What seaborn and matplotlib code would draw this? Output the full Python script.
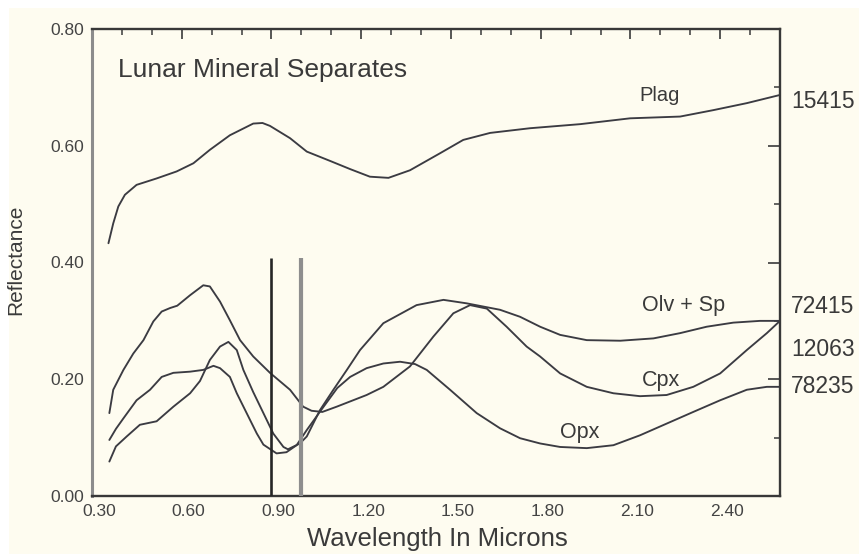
import numpy as np
import pandas as pd
import seaborn as sns
import matplotlib
matplotlib.use("Agg")
import matplotlib.pyplot as plt
from matplotlib.patches import Rectangle
from matplotlib.transforms import ScaledTranslation

# Reflectance spectra of lunar mineral separates (wavelength in microns)
plag_x = [0.355, 0.371, 0.388, 0.410, 0.449, 0.516, 0.583, 0.639, 0.694, 0.761,
          0.839, 0.870, 0.895, 0.962, 1.018, 1.096, 1.163, 1.229, 1.291, 1.363,
          1.463, 1.541, 1.631, 1.764, 1.932, 2.099, 2.266, 2.377, 2.489, 2.600]
plag_y = [0.433, 0.467, 0.496, 0.516, 0.533, 0.544, 0.556, 0.570, 0.593, 0.618,
          0.638, 0.639, 0.634, 0.613, 0.590, 0.574, 0.560, 0.547, 0.545, 0.558,
          0.587, 0.610, 0.622, 0.630, 0.637, 0.647, 0.650, 0.661, 0.673, 0.687]

cpx_x = [0.358, 0.371, 0.405, 0.438, 0.472, 0.505, 0.533, 0.561, 0.585, 0.628,
         0.672, 0.694, 0.728, 0.761, 0.795, 0.839, 0.895, 0.962, 1.006, 1.034,
         1.070, 1.118, 1.218, 1.274, 1.363, 1.441, 1.508, 1.564, 1.620, 1.686,
         1.753, 1.798, 1.865, 1.954, 2.043, 2.132, 2.221, 2.310, 2.400, 2.489,
         2.556, 2.600]
cpx_y = [0.142, 0.182, 0.216, 0.244, 0.267, 0.299, 0.316, 0.322, 0.326, 0.344,
         0.361, 0.359, 0.333, 0.301, 0.267, 0.239, 0.211, 0.182, 0.153, 0.146,
         0.144, 0.153, 0.173, 0.187, 0.222, 0.273, 0.313, 0.327, 0.321, 0.290,
         0.256, 0.239, 0.210, 0.187, 0.176, 0.171, 0.173, 0.187, 0.210, 0.250,
         0.279, 0.300]

olv_x = [0.358, 0.380, 0.416, 0.460, 0.516, 0.572, 0.628, 0.661, 0.694, 0.728,
         0.756, 0.784, 0.806, 0.839, 0.873, 0.906, 0.940, 0.955, 0.995, 1.018,
         1.062, 1.107, 1.152, 1.196, 1.274, 1.385, 1.475, 1.553, 1.664, 1.731,
         1.798, 1.865, 1.954, 2.066, 2.177, 2.266, 2.355, 2.444, 2.533, 2.600]
olv_y = [0.059, 0.085, 0.102, 0.122, 0.128, 0.153, 0.176, 0.197, 0.233, 0.256,
         0.264, 0.250, 0.216, 0.178, 0.142, 0.107, 0.084, 0.080, 0.090, 0.102,
         0.147, 0.182, 0.216, 0.250, 0.296, 0.327, 0.336, 0.330, 0.319, 0.307,
         0.290, 0.276, 0.267, 0.266, 0.270, 0.279, 0.290, 0.297, 0.300, 0.300]

opx_x = [0.358, 0.380, 0.405, 0.449, 0.494, 0.533, 0.572, 0.628, 0.672, 0.706,
         0.728, 0.761, 0.784, 0.817, 0.851, 0.873, 0.917, 0.950, 0.984, 1.018,
         1.070, 1.120, 1.163, 1.218, 1.274, 1.330, 1.380, 1.419, 1.497, 1.586,
         1.664, 1.731, 1.798, 1.865, 1.954, 2.043, 2.132, 2.221, 2.310, 2.400,
         2.489, 2.556, 2.600]
opx_y = [0.096, 0.115, 0.133, 0.164, 0.182, 0.204, 0.211, 0.213, 0.216, 0.223,
         0.219, 0.204, 0.176, 0.142, 0.107, 0.088, 0.073, 0.075, 0.087, 0.113,
         0.150, 0.185, 0.204, 0.219, 0.227, 0.230, 0.226, 0.216, 0.182, 0.142,
         0.116, 0.099, 0.090, 0.084, 0.082, 0.087, 0.104, 0.124, 0.144, 0.164,
         0.182, 0.187, 0.187]

sample_ids = ["15415", "72415", "12063", "78235"]
curve_names = ["Plag", "Olv + Sp", "Cpx", "Opx"]
band_lines = [0.90, 1.00]
x_ticks = [0.30, 0.60, 0.90, 1.20, 1.50, 1.80, 2.10, 2.40]
y_ticks = [0.00, 0.20, 0.40, 0.60, 0.80]

W, H = 859, 554
paper = "#fefcf0"
ink = "#3b3b42"

sns.set_theme(style="white")
plt.rcParams["font.family"] = ["Liberation Sans", "DejaVu Sans"]

fig = plt.figure(figsize=(W / 100, H / 100), dpi=100, facecolor="white")
fig.patches.append(Rectangle((9 / W, 0), 1, (H - 8) / H, transform=fig.transFigure,
                             facecolor=paper, edgecolor="none", zorder=-10))
ax = fig.add_axes([92 / W, 58 / H, (780 - 92) / W, (496 - 29) / H])
ax.set_facecolor("none")

frames = []
for name, xs, ys in [("Plag", plag_x, plag_y), ("Cpx", cpx_x, cpx_y),
                     ("Olv + Sp", olv_x, olv_y), ("Opx", opx_x, opx_y)]:
    frames.append(pd.DataFrame({"wavelength": xs, "reflectance": ys, "mineral": name}))
df = pd.concat(frames, ignore_index=True)

sns.lineplot(data=df, x="wavelength", y="reflectance", units="mineral",
             estimator=None, sort=False, color=ink, linewidth=1.35, ax=ax,
             legend=False)

# absorption band markers
ax.vlines(band_lines[0], 0, 0.407, color="#262626", linewidth=1.9, zorder=3)
ax.vlines(band_lines[1], 0, 0.407, color="#8e8e8e", linewidth=3.0, zorder=3)

ax.set_xlim(0.30, 2.60)
ax.set_ylim(0.0, 0.80)
ax.set_xticks(x_ticks)
ax.set_xticklabels([f"{v:.2f}" for v in x_ticks])
ax.set_xticks(np.arange(0.30, 2.601, 0.10), minor=True)
ax.set_yticks(y_ticks)
ax.set_yticklabels([f"{v:.2f}" for v in y_ticks])
ax.set_yticks(np.arange(0.0, 0.801, 0.10), minor=True)

ax.tick_params(which="both", direction="in", top=True, right=True, colors="#3a3a3a",
               labelcolor="#444444", labelsize=12.5)
ax.tick_params(which="major", axis="x", length=7.5, width=1.2, pad=6)
ax.tick_params(which="minor", axis="x", length=4, width=1.1)
ax.tick_params(which="major", axis="y", length=8.5, width=1.2, pad=6)
ax.tick_params(which="minor", axis="y", length=4, width=1.1)
for lab in ax.get_xticklabels():
    lab.set_transform(lab.get_transform() + ScaledTranslation(0.07, 0, fig.dpi_scale_trans))

for side, spine in ax.spines.items():
    spine.set_visible(True)
    spine.set_color("#8c8c8c" if side == "left" else "#383838")
    spine.set_linewidth(2.2 if side == "left" else 1.7)

ax.set_xlabel("")
ax.set_ylabel("")

def px(x, y):
    # figure-pixel position (from top-left) to figure fraction
    return x / W, 1 - y / H

fig.text(*px(118, 77), "Lunar Mineral Separates", fontsize=19, color="#3a3a3a",
         ha="left", va="baseline")
fig.text(*px(437, 546), "Wavelength In Microns", fontsize=18.5, color="#3a3a3a",
         ha="center", va="baseline")
fig.text(*px(16, 260), "Reflectance", fontsize=15, color="#3a3a3a",
         ha="center", va="center", rotation=90)

fig.text(*px(639, 101), curve_names[0], fontsize=14.5, color="#3a3a3a", va="baseline")
fig.text(*px(642, 311), curve_names[1], fontsize=15.5, color="#3a3a3a", va="baseline")
fig.text(*px(642, 386), curve_names[2], fontsize=15.5, color="#3a3a3a", va="baseline")
fig.text(*px(560, 438), curve_names[3], fontsize=15.5, color="#3a3a3a", va="baseline")

for sid, yb in zip(sample_ids, [108, 313, 356, 393]):
    fig.text(*px(791, yb), sid, fontsize=16.5, color="#3a3a3a", va="baseline")

fig.savefig("out.png", dpi=100, facecolor="white")
